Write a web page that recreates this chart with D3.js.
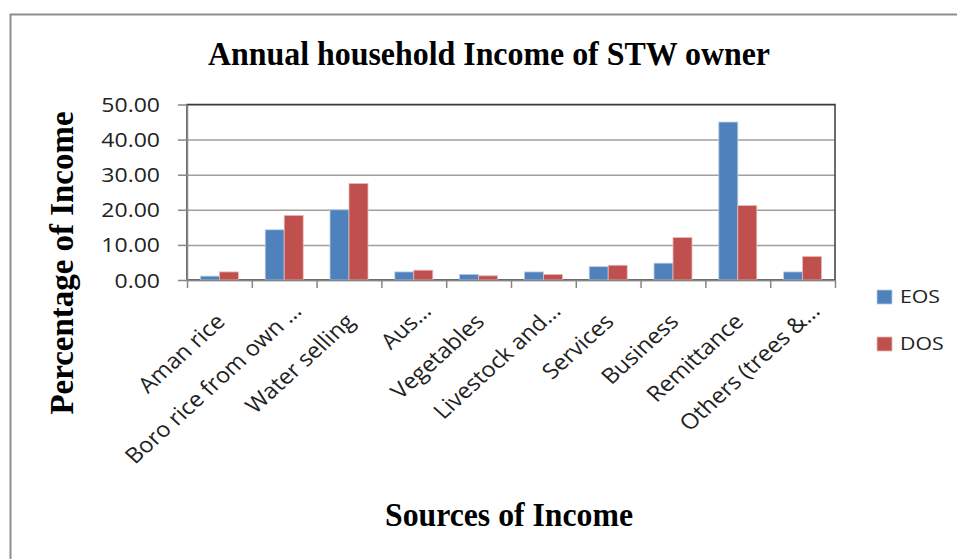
<!DOCTYPE html>
<html>
<head>
<meta charset="utf-8">
<script src="https://cdn.jsdelivr.net/npm/d3@7"></script>
<style>
  html, body { margin: 0; padding: 0; background: #fff; }
  svg { display: block; }
</style>
</head>
<body>
<svg id="chart" width="957" height="559"></svg>
<script>
const categories = ["Aman rice", "Boro rice from own …", "Water selling", "Aus…", "Vegetables",
                    "Livestock and…", "Services", "Business", "Remittance", "Others (trees &…"];
const eosValues = [1.1, 14.3, 20.0, 2.3, 1.6, 2.3, 3.8, 4.8, 45.0, 2.3];
const dosValues = [2.3, 18.4, 27.5, 2.8, 1.2, 1.6, 4.2, 12.1, 21.2, 6.7];
const seriesNames = ["EOS", "DOS"];
const seriesColors = ["#4F81BD", "#C0504D"];
const seriesStrokes = ["#b9cde5", "#e6b9b8"];
const yTickValues = [0, 10, 20, 30, 40, 50];
const chartTitle = "Annual household Income of STW owner";
const yTitle = "Percentage of Income";
const xTitle = "Sources of Income";

const svg = d3.select("#chart");
const W = 957, H = 559;
const plot = { left: 187, right: 835, top: 104.5, bottom: 280 };
const SX = 1.18;
const LX = 1.1;
const sansFont = "'Open Sans', 'Liberation Sans', sans-serif";
const serifFont = "'Liberation Serif', 'Times New Roman', serif";

svg.append("rect").attr("width", W).attr("height", H).attr("fill", "#fff");

// outer frame (top + left visible)
svg.append("path")
  .attr("d", `M10.5,${H} V14.5 H${W}`)
  .attr("fill", "none").attr("stroke", "#8e8e8e").attr("stroke-width", 2);

const x0 = d3.scaleBand().domain(categories).range([plot.left, plot.right])
  .paddingInner(0.414).paddingOuter(0.207);
const x1 = d3.scaleBand().domain(seriesNames).range([0, x0.bandwidth()]);
const y = d3.scaleLinear().domain([0, 50]).range([plot.bottom, plot.top]);
const xEdges = d3.scaleLinear().domain([0, categories.length]).range([plot.left, plot.right]);

// gridlines
const grid = svg.append("g").attr("transform", `translate(${plot.left},0)`)
  .call(d3.axisLeft(y).tickValues(yTickValues).tickSize(-(plot.right - plot.left)).tickFormat(""));
grid.select(".domain").remove();
grid.selectAll("line").attr("stroke", "#a0a0a0").attr("stroke-width", 1.5);

// plot area border
svg.append("rect")
  .attr("x", plot.left).attr("y", plot.top)
  .attr("width", plot.right - plot.left).attr("height", plot.bottom - plot.top)
  .attr("fill", "none").attr("stroke", "#3a3a3a").attr("stroke-width", 1.5);

// bars
const data = categories.map((c, i) => ({ cat: c, vals: [eosValues[i], dosValues[i]] }));
const groups = svg.append("g").selectAll("g").data(data).join("g")
  .attr("transform", d => `translate(${x0(d.cat)},0)`);
groups.selectAll("rect").data(d => d.vals.map((v, j) => ({ v, s: seriesNames[j], j })))
  .join("rect")
  .attr("x", d => x1(d.s))
  .attr("y", d => y(d.v))
  .attr("width", x1.bandwidth())
  .attr("height", d => y(0) - y(d.v))
  .attr("fill", d => seriesColors[d.j])
  .attr("stroke", d => seriesStrokes[d.j])
  .attr("stroke-width", 0.8);

// y axis
const yAxis = svg.append("g").attr("transform", `translate(${plot.left},0)`)
  .call(d3.axisLeft(y).tickValues(yTickValues).tickFormat(d3.format(".2f")).tickSize(9).tickSizeOuter(0));
yAxis.select(".domain").attr("stroke", "#868686").attr("stroke-width", 1.5);
yAxis.selectAll("line").attr("stroke", "#868686").attr("stroke-width", 1.5);
yAxis.selectAll("text")
  .attr("x", 0).attr("dy", "0.36em")
  .attr("transform", `translate(-27,0) scale(${SX},1)`)
  .attr("font-family", sansFont).attr("font-size", 19.5).attr("fill", "#222");

// x axis (ticks at category edges)
const xAxis = svg.append("g").attr("transform", `translate(0,${plot.bottom})`)
  .call(d3.axisBottom(xEdges).ticks(categories.length).tickFormat("").tickSize(8).tickSizeOuter(0));
xAxis.select(".domain").attr("stroke", "#868686").attr("stroke-width", 1.5);
xAxis.selectAll("line").attr("stroke", "#868686").attr("stroke-width", 1.5);

// x category labels
svg.append("g").selectAll("text").data(categories).join("text")
  .attr("transform", d => `translate(${x0(d) + x0.bandwidth() / 2 + 7},323) scale(${LX},1) rotate(-45)`)
  .attr("dx", d => d.endsWith("…") ? 15 : 0)
  .attr("text-anchor", "end")
  .attr("font-family", sansFont).attr("font-size", 21.5).attr("fill", "#222")
  .text(d => d);

// titles
svg.append("text")
  .attr("x", 489).attr("y", 65).attr("text-anchor", "middle")
  .attr("font-family", serifFont).attr("font-weight", "bold").attr("font-size", 33)
  .attr("textLength", 562).attr("lengthAdjust", "spacingAndGlyphs")
  .text(chartTitle);

svg.append("text")
  .attr("transform", "translate(73,263) rotate(-90)")
  .attr("text-anchor", "middle")
  .attr("font-family", serifFont).attr("font-weight", "bold").attr("font-size", 33)
  .attr("textLength", 303).attr("lengthAdjust", "spacingAndGlyphs")
  .text(yTitle);

svg.append("text")
  .attr("x", 509).attr("y", 526).attr("text-anchor", "middle")
  .attr("font-family", serifFont).attr("font-weight", "bold").attr("font-size", 33)
  .attr("textLength", 248).attr("lengthAdjust", "spacingAndGlyphs")
  .text(xTitle);

// legend
const legend = svg.append("g").selectAll("g").data(seriesNames).join("g")
  .attr("transform", (d, i) => `translate(877,${290 + i * 47})`);
legend.append("rect").attr("width", 15).attr("height", 14)
  .attr("fill", (d, i) => seriesColors[i]).attr("stroke", (d, i) => seriesStrokes[i]).attr("stroke-width", 0.8);
legend.append("text")
  .attr("transform", `translate(23,13) scale(1.12,1)`)
  .attr("font-family", sansFont).attr("font-size", 19).attr("fill", "#222")
  .text(d => d);
</script>
</body>
</html>
